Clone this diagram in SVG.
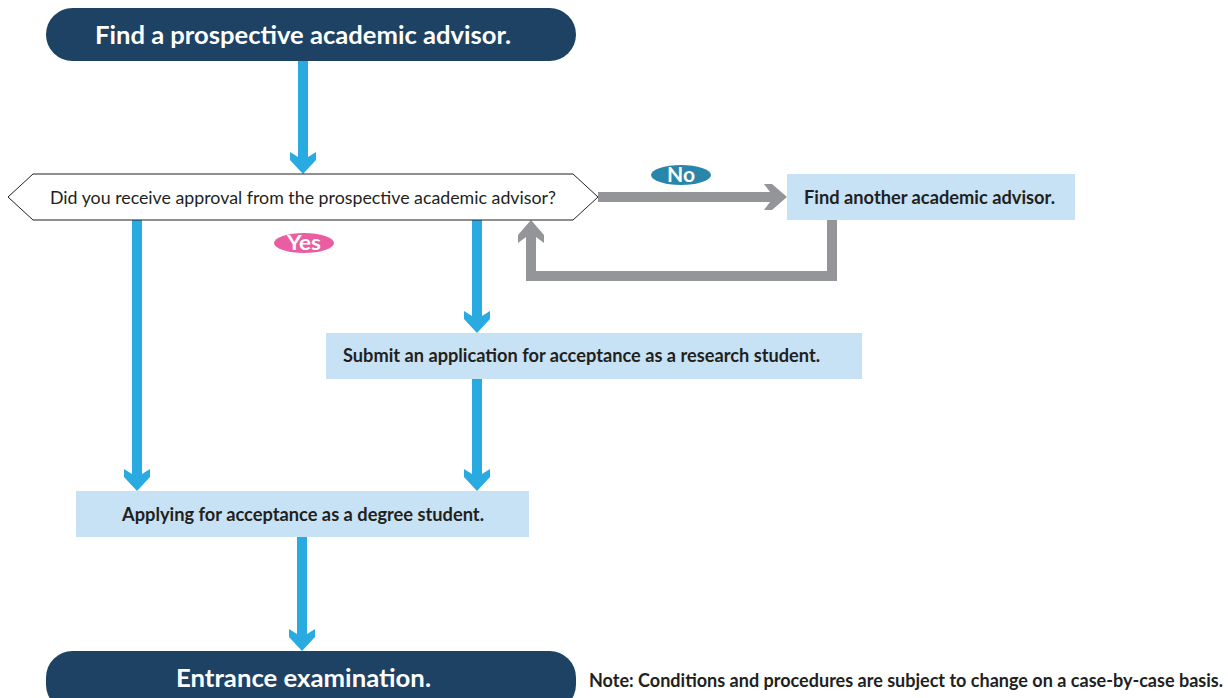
<svg xmlns="http://www.w3.org/2000/svg" width="1228" height="698" viewBox="0 0 1228 698">
<style>
.pill{fill:#1d4264}
.pilltxt{font-family:Lato,"Open Sans",sans-serif;font-weight:bold;font-size:25.5px;fill:#ffffff;text-anchor:middle}
.box{fill:#c7e2f4}
.boxtxt{font-family:Lato,"Open Sans",sans-serif;font-weight:bold;font-size:18px;fill:#231f20}
.qtxt{font-family:Lato,"Open Sans",sans-serif;font-size:18px;fill:#231f20;text-anchor:middle}
.tag{font-family:Lato,"Open Sans",sans-serif;font-weight:bold;font-size:20px;fill:#ffffff;text-anchor:middle}
.blue{fill:#29abe2}
.gray{fill:#939598}
.note{font-family:Lato,"Open Sans",sans-serif;font-weight:bold;font-size:18px;fill:#231f20}
</style>
<defs>
<path id="headB" d="M-5,-17 L-13,-22 L-13,-14 L0,0 L13,-14 L13,-22 L5,-17 Z"/>
</defs>
<g id="connectors">
<rect class="blue" x="298" y="61" width="10" height="97"/>
<use href="#headB" class="blue" transform="translate(303,174)"/>
<rect class="blue" x="132" y="220" width="10" height="254"/>
<use href="#headB" class="blue" transform="translate(137,491)"/>
<rect class="blue" x="472" y="220" width="10" height="96"/>
<use href="#headB" class="blue" transform="translate(477,333)"/>
<rect class="blue" x="472" y="379" width="10" height="95"/>
<use href="#headB" class="blue" transform="translate(477,491)"/>
<rect class="blue" x="297" y="537" width="10" height="97"/>
<use href="#headB" class="blue" transform="translate(302,651)"/>
<rect class="gray" x="598" y="192" width="172" height="10"/>
<path class="gray" d="M770,192 L764,184 L772,184 L787,197 L772,210 L764,210 L770,202 Z"/>
<path class="gray" d="M827,220 L837,220 L837,281 L526,281 L526,237 L536,237 L536,271 L827,271 Z"/>
<path class="gray" d="M526,237 L518,243 L518,235 L531,220 L544,235 L544,243 L536,237 Z"/>
<ellipse cx="304" cy="243" rx="30" ry="10" fill="#ea5ea1"/>
<text class="tag" x="304" y="250" textLength="34" lengthAdjust="spacingAndGlyphs">Yes</text>
<ellipse cx="681" cy="175" rx="30" ry="10" fill="#2a85ab"/>
<text class="tag" x="681" y="182" textLength="28" lengthAdjust="spacingAndGlyphs">No</text>
</g>
<g id="start">
<rect class="pill" x="46" y="8" width="530" height="53" rx="26.5"/>
<text class="pilltxt" x="303" y="44" textLength="416" lengthAdjust="spacingAndGlyphs">Find a prospective academic advisor.</text>
</g>
<g id="decision">
<polygon points="8,197 33,174 573,174 598,197 573,220 33,220" fill="#ffffff" stroke="#231f20" stroke-width="1"/>
<text class="qtxt" x="303" y="204" textLength="506" lengthAdjust="spacingAndGlyphs">Did you receive approval from the prospective academic advisor?</text>
</g>
<g id="another">
<rect class="box" x="787" y="174" width="288" height="46"/>
<text class="boxtxt" x="929.5" y="204" text-anchor="middle" textLength="251" lengthAdjust="spacingAndGlyphs">Find another academic advisor.</text>
</g>
<g id="research">
<rect class="box" x="326" y="333" width="536" height="46"/>
<text class="boxtxt" x="343" y="362" textLength="477" lengthAdjust="spacingAndGlyphs">Submit an application for acceptance as a research student.</text>
</g>
<g id="degree">
<rect class="box" x="76" y="491" width="453" height="46"/>
<text class="boxtxt" x="303" y="521" text-anchor="middle" textLength="362" lengthAdjust="spacingAndGlyphs">Applying for acceptance as a degree student.</text>
</g>
<g id="entrance">
<rect class="pill" x="46" y="651" width="530" height="60" rx="26.5"/>
<text class="pilltxt" x="303.5" y="687" textLength="255" lengthAdjust="spacingAndGlyphs">Entrance examination.</text>
</g>
<g id="note">
<text class="note" x="589" y="687" textLength="634" lengthAdjust="spacingAndGlyphs">Note: Conditions and procedures are subject to change on a case-by-case basis.</text>
</g>
</svg>
